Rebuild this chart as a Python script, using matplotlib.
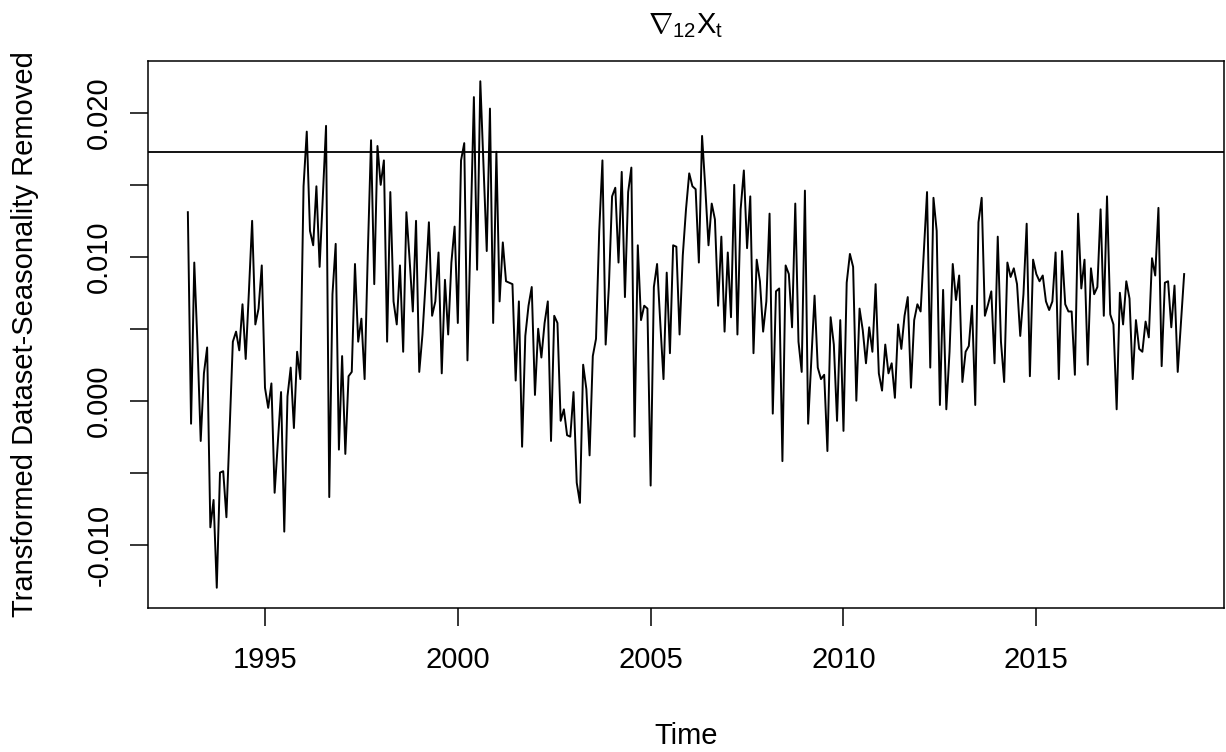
import matplotlib

matplotlib.use("Agg")

import matplotlib.pyplot as plt
import numpy as np

plt.rcParams["font.family"] = ["Liberation Sans", "DejaVu Sans"]
plt.rcParams["mathtext.fontset"] = "custom"
plt.rcParams["mathtext.rm"] = "Liberation Sans"
plt.rcParams["mathtext.it"] = "Liberation Sans"

# monthly series, Jan 1993 - Nov 2018
start_year = 1993
values = [
    0.0131, -0.0016, 0.0096, 0.0039, -0.0028, 0.0019, 0.0037, -0.0088, -0.0069, -0.0130, -0.0050, -0.0049,
    -0.0081, -0.0021, 0.0041, 0.0048, 0.0035, 0.0067, 0.0029, 0.0076, 0.0125, 0.0053, 0.0064, 0.0094,
    0.0009, -0.0005, 0.0012, -0.0064, -0.0029, 0.0006, -0.0091, 0.0003, 0.0023, -0.0019, 0.0034, 0.0015,
    0.0149, 0.0187, 0.0118, 0.0108, 0.0149, 0.0093, 0.0142, 0.0191, -0.0067, 0.0074, 0.0109, -0.0034,
    0.0031, -0.0037, 0.0017, 0.0020, 0.0095, 0.0041, 0.0057, 0.0015, 0.0103, 0.0181, 0.0081, 0.0177,
    0.0150, 0.0167, 0.0041, 0.0145, 0.0069, 0.0053, 0.0094, 0.0034, 0.0131, 0.0098, 0.0062, 0.0125,
    0.0020, 0.0046, 0.0083, 0.0124, 0.0059, 0.0069, 0.0103, 0.0019, 0.0084, 0.0046, 0.0096, 0.0121,
    0.0054, 0.0167, 0.0179, 0.0028, 0.0120, 0.0211, 0.0091, 0.0222, 0.0163, 0.0104, 0.0203, 0.0054,
    0.0173, 0.0069, 0.0110, 0.0083, 0.0082, 0.0081, 0.0014, 0.0069, -0.0032, 0.0045, 0.0066, 0.0079,
    0.0004, 0.0050, 0.0030, 0.0054, 0.0069, -0.0028, 0.0059, 0.0054, -0.0014, -0.0006, -0.0024, -0.0025,
    0.0006, -0.0057, -0.0071, 0.0025, 0.0008, -0.0038, 0.0031, 0.0043, 0.0118, 0.0167, 0.0039, 0.0079,
    0.0142, 0.0148, 0.0096, 0.0159, 0.0072, 0.0145, 0.0162, -0.0025, 0.0108, 0.0056, 0.0066, 0.0064,
    -0.0059, 0.0079, 0.0095, 0.0054, 0.0015, 0.0089, 0.0033, 0.0108, 0.0107, 0.0046, 0.0101, 0.0133,
    0.0158, 0.0149, 0.0147, 0.0096, 0.0184, 0.0148, 0.0108, 0.0137, 0.0126, 0.0066, 0.0114, 0.0048,
    0.0103, 0.0058, 0.0150, 0.0046, 0.0133, 0.0160, 0.0106, 0.0142, 0.0033, 0.0098, 0.0083, 0.0048,
    0.0069, 0.0130, -0.0009, 0.0076, 0.0078, -0.0042, 0.0094, 0.0088, 0.0051, 0.0137, 0.0041, 0.0020,
    0.0146, -0.0016, 0.0029, 0.0073, 0.0023, 0.0015, 0.0018, -0.0035, 0.0058, 0.0039, -0.0014, 0.0056,
    -0.0021, 0.0082, 0.0102, 0.0093, 0.0000, 0.0064, 0.0049, 0.0026, 0.0051, 0.0034, 0.0081, 0.0019,
    0.0007, 0.0039, 0.0019, 0.0026, 0.0002, 0.0053, 0.0036, 0.0059, 0.0072, 0.0009, 0.0056, 0.0067,
    0.0062, 0.0103, 0.0145, 0.0023, 0.0141, 0.0118, -0.0003, 0.0077, -0.0006, 0.0034, 0.0095, 0.0070,
    0.0087, 0.0013, 0.0034, 0.0038, 0.0066, -0.0003, 0.0124, 0.0141, 0.0059, 0.0067, 0.0076, 0.0026,
    0.0114, 0.0041, 0.0013, 0.0096, 0.0086, 0.0092, 0.0081, 0.0045, 0.0074, 0.0123, 0.0017, 0.0098,
    0.0088, 0.0083, 0.0087, 0.0069, 0.0063, 0.0069, 0.0103, 0.0015, 0.0104, 0.0067, 0.0062, 0.0062,
    0.0018, 0.0130, 0.0078, 0.0098, 0.0025, 0.0092, 0.0074, 0.0079, 0.0133, 0.0059, 0.0142, 0.0060,
    0.0053, -0.0006, 0.0075, 0.0053, 0.0083, 0.0071, 0.0015, 0.0056, 0.0036, 0.0034, 0.0055, 0.0044,
    0.0099, 0.0087, 0.0134, 0.0024, 0.0082, 0.0083, 0.0051, 0.0080, 0.0020, 0.0054, 0.0088,
]
threshold = 0.0173

x_ticks = [1995, 2000, 2005, 2010, 2015]
y_ticks = [-0.010, -0.005, 0.000, 0.005, 0.010, 0.015, 0.020]
y_tick_labels = ["-0.010", "", "0.000", "", "0.010", "", "0.020"]

W, H = 1226, 752
t = start_year + np.arange(len(values)) / 12.0
y = np.array(values)

fig = plt.figure(figsize=(W / 100, H / 100), dpi=100)
ax = fig.add_axes([148 / W, (H - 608) / H, (1224 - 148) / W, (608 - 61) / H])

ax.plot(t, y, color="black", lw=1.4)
ax.axhline(threshold, color="black", lw=1.3)

# R-style 4% padding on both axes
xpad = 0.04 * (t[-1] - t[0])
ypad = 0.04 * (y.max() - y.min())
ax.set_xlim(t[0] - xpad, t[-1] + xpad)
ax.set_ylim(y.min() - ypad, y.max() + ypad)

ax.set_xticks(x_ticks)
ax.set_xticklabels([str(v) for v in x_ticks])
ax.set_yticks(y_ticks)
ax.set_yticklabels(y_tick_labels, rotation=90, va="center")
ax.tick_params(axis="both", length=13, width=1.1, labelsize=21, color="black")
ax.tick_params(axis="x", pad=14.5)
ax.tick_params(axis="y", pad=12)
for sp in ax.spines.values():
    sp.set_linewidth(1.1)

fig.text(686 / W, 1 - 33 / H, r"$\nabla_{12}\mathrm{X}_{\mathrm{t}}$", ha="center", va="baseline", fontsize=21)
fig.text(686 / W, 1 - 736 / H, "Time", ha="center", va="center", fontsize=21)
fig.text(25 / W, 1 - 334.5 / H, "Transformed Dataset-Seasonality Removed",
         rotation=90, ha="center", va="center", fontsize=21)

fig.savefig("out.png", dpi=100)
